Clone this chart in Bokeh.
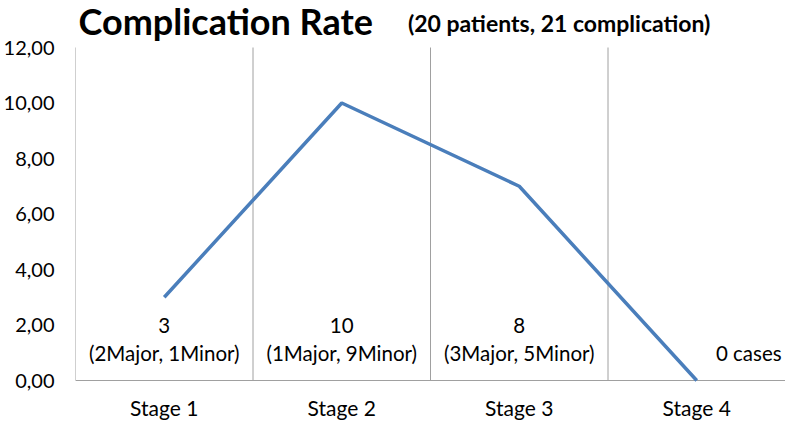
from bokeh.plotting import figure
from bokeh.models import Range1d, FixedTicker, CustomJSTickFormatter, ColumnDataSource
from bokeh.core.properties import value
from bokeh.embed import file_html
from bokeh.resources import INLINE

stages = ["Stage 1", "Stage 2", "Stage 3", "Stage 4"]
rates = [3, 10, 7, 0]
counts_text = ["3", "10", "8", ""]
detail_text = ["(2Major, 1Minor)", "(1Major, 9Minor)", "(3Major, 5Minor)", "0 cases"]
y_ticks = [0, 2, 4, 6, 8, 10, 12]
title_main = "Complication Rate"
title_sub = "(20 patients, 21 complication)"

FONT = "Lato"
GRID = "#a0a0a0"
n = len(stages)
xs = [i + 0.5 for i in range(n)]
y_top = y_ticks[-1]

p = figure(width=785, height=421, output_backend="svg", toolbar_location=None,
           x_range=Range1d(0, n), y_range=Range1d(-1.477, 13.694),
           min_border_left=74, min_border_right=0, min_border_top=0, min_border_bottom=0)
p.title.visible = False
p.outline_line_color = None
p.background_fill_color = "white"
p.border_fill_color = "white"
p.xaxis.visible = False

# y axis
p.yaxis.ticker = FixedTicker(ticks=y_ticks)
p.yaxis.formatter = CustomJSTickFormatter(code="return tick.toFixed(2).replace('.', ',');")
p.yaxis.axis_line_color = None
p.yaxis.major_tick_line_color = None
p.yaxis.minor_tick_line_color = None
p.yaxis.major_label_text_font = FONT
p.yaxis.major_label_text_color = "black"
p.yaxis.major_label_text_font_size = "20px"
p.yaxis.major_label_standoff = 15

p.xgrid.grid_line_color = None
p.ygrid.grid_line_color = None

# left axis line, category separators, and baseline (0..12 only)
sep = list(range(0, n + 1))
p.segment(x0=sep, y0=0, x1=sep, y1=y_top, line_color=GRID, line_width=1)
p.segment(x0=[0], y0=[0], x1=[n], y1=[0], line_color=GRID, line_width=1)

# category labels
p.text(x=xs, y=-0.98, text=stages, text_align="center", text_baseline="middle",
       text_font=value(FONT), text_font_size="21px", text_color="black")

# data line
p.line(xs, rates, line_color="#4a7ebb", line_width=3.5)

# annotations
src = ColumnDataSource(dict(x=xs[:3], top=counts_text[:3], bot=detail_text[:3]))
p.text(x="x", y=2, text="top", source=src, text_align="center", text_baseline="middle",
       text_font=value(FONT), text_font_size="20.5px", text_color="black")
p.text(x="x", y=1, text="bot", source=src, text_align="center", text_baseline="middle",
       text_font=value(FONT), text_font_size="20.5px", text_color="black")
p.text(x=[xs[3]], y=[1], text=[detail_text[3]], text_align="center", text_baseline="middle",
       x_offset=52, text_font=value(FONT), text_font_size="20.5px", text_color="black")

# title
p.text(x=[0.017], y=[12.94], text=[title_main], text_font=value(FONT), text_font_style="bold",
       text_font_size="36px", text_baseline="middle", text_color="black")
p.text(x=[1.873], y=[12.90], text=[title_sub], text_font=value(FONT), text_font_style="bold",
       text_font_size="23px", text_baseline="middle", text_color="black")

open("out.html", "w").write(file_html(p, INLINE))
